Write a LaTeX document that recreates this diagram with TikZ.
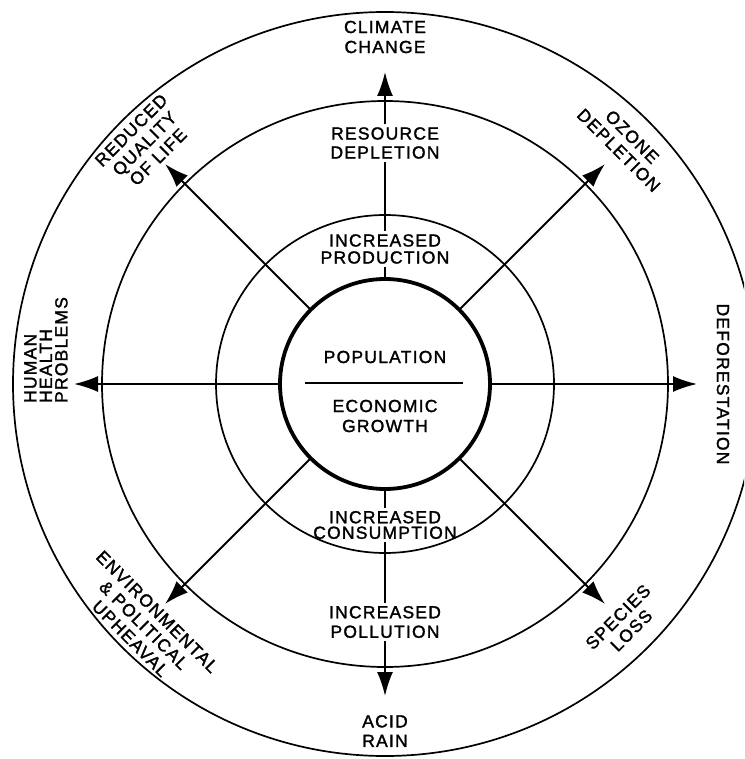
\documentclass[tikz,border=0pt]{standalone}
\usepackage{fontspec}
\setmainfont{Liberation Sans}[LetterSpace=7,FakeBold=1.6]
\usetikzlibrary{arrows.meta,calc}
\begin{document}
\begin{tikzpicture}[x=1pt,y=-1pt,
  ring/.style={draw, line width=1.7pt},
  arr/.style={line width=1.8pt, -{Latex[length=24pt,width=16pt]}},
  seg/.style={line width=1.8pt},
  lbl/.style={font=\fontsize{17.5}{20}\selectfont, align=center, inner sep=3pt},
  tight/.style={font=\fontsize{17.5}{17}\selectfont},
  diag/.style={font=\fontsize{17.5}{19}\selectfont},
  close/.style={font=\fontsize{17.5}{15.5}\selectfont}
]
\useasboundingbox (0,0) rectangle (744,759);
\clip (0,0) rectangle (744,759);
\coordinate (O) at (385,384);
\draw[ring] (O) circle[radius=372pt];
\draw[ring] (O) circle[radius=283pt];
\draw[ring] (O) circle[radius=169pt];
\node[circle, draw, line width=3.8pt, minimum size=210pt, inner sep=0pt, outer sep=0pt] (core) at (O) {};

% texts
\node[lbl] (clim) at (385,37) {CLIMATE\\CHANGE};
\node[lbl, font=\fontsize{17.5}{19}\selectfont] (res) at (385,143) {RESOURCE\\DEPLETION};
\node[lbl, tight] (prod) at (385,249) {INCREASED\\PRODUCTION};
\node[lbl] (pop) at (385,357) {POPULATION};
\node[lbl] (econ) at (385,416) {ECONOMIC\\GROWTH};
\node[lbl, close] (cons) at (385,525) {INCREASED\\CONSUMPTION};
\node[lbl, font=\fontsize{17.5}{19.5}\selectfont] (poll) at (385,622) {INCREASED\\POLLUTION};
\node[lbl, font=\fontsize{17.5}{19.5}\selectfont] (acid) at (385,731) {ACID\\RAIN};
\node[lbl, rotate=-90] (defor) at (723,384) {DEFORESTATION};
\node[lbl, close, rotate=90, align=left] (human) at (46,350) {HUMAN\\HEALTH\\PROBLEMS};
\node[lbl, diag, rotate=45] (reduced) at ($(O)+(135:340pt)$) {REDUCED\\QUALITY\\OF LIFE};
\node[lbl, diag, rotate=-45] (ozone) at ($(O)+(45:340pt)$) {OZONE\\DEPLETION};
\node[lbl, diag, rotate=-45] (env) at ($(O)+(225:341pt)$) {ENVIRONMENTAL\\\&~POLITICAL\\UPHEAVAL};
\node[lbl, diag, rotate=45] (species) at ($(O)+(-45:339pt)$) {SPECIES\\LOSS};

% divider
\coordinate (dl) at (305,383);
\coordinate (dr) at (463,383);
\draw[seg] (dl) -- (dr);

% arrow tips
\coordinate (tN) at ($(O)+(90:312pt)$);
\coordinate (tS) at ($(O)+(-90:312pt)$);
\coordinate (tW) at ($(O)+(180:311pt)$);
\coordinate (tE) at ($(O)+(0:312pt)$);
\coordinate (tNW) at ($(O)+(135:311pt)$);
\coordinate (tNE) at ($(O)+(45:311pt)$);
\coordinate (tSW) at ($(O)+(225:311pt)$);
\coordinate (tSE) at ($(O)+(-45:311pt)$);

% connectors
\draw[seg] (core.north) -- (prod);
\draw[seg] (prod) -- (res);
\draw[arr] (res) -- (tN);
\draw[seg] (core.south) -- (cons);
\draw[seg] (cons) -- (poll);
\draw[arr] (poll) -- (tS);
\draw[arr] (core.west) -- (tW);
\draw[arr] (core.east) -- (tE);
\draw[arr] (core.135) -- (tNW);
\draw[arr] (core.45) -- (tNE);
\draw[arr] (core.225) -- (tSW);
\draw[arr] (core.-45) -- (tSE);
\end{tikzpicture}
\end{document}
